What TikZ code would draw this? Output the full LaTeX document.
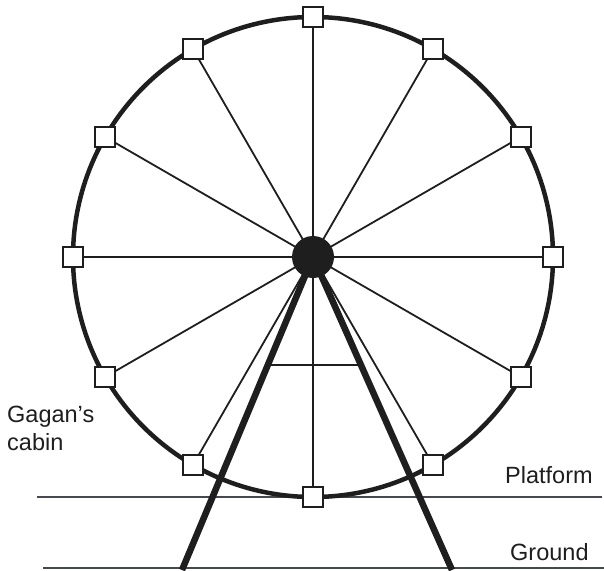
\documentclass[tikz,border=0pt]{standalone}
\usepackage{fontspec}
\setmainfont{Liberation Sans}
\usetikzlibrary{calc,positioning}
\definecolor{wheelgray}{RGB}{30,30,30}
\definecolor{linegray}{RGB}{70,74,78}

\begin{document}
\begin{tikzpicture}[x=1pt,y=-1pt,font=\fontsize{23.5}{27}\selectfont,
    cabin/.style={draw=wheelgray,fill=white,line width=2.2pt,minimum size=20pt,inner sep=0pt},
    spoke/.style={draw=wheelgray,line width=1.8pt},
    leg/.style={draw=wheelgray,line width=6.5pt},
    level/.style={draw=linegray,line width=1.8pt},
    every node/.style={align=left}]
    \useasboundingbox (0,0) rectangle (604,570);
    \coordinate (hub-c) at (313,257);
    % platform and ground
    \coordinate (plat-l) at (37,497);
    \coordinate (plat-r) at (602,497);
    \coordinate (gnd-l) at (43,568);
    \coordinate (gnd-r) at (604,568);
    \draw[level] (plat-l)--(plat-r);
    \draw[level] (gnd-l)--(gnd-r);
    % legs
    \coordinate (lfoot) at (182,570);
    \coordinate (rfoot) at (452,570);
    \draw[leg] (hub-c)--(lfoot);
    \draw[leg] (hub-c)--(rfoot);
    \draw[spoke] ($(hub-c)!0.345!(lfoot)$)--($(hub-c)!0.345!(rfoot)$);
    % wheel
    \foreach \i in {0,...,11}
      \coordinate (pos\i) at ($(hub-c)+(\i*30:240)$);
    \foreach \i in {0,...,11}
      \draw[spoke] (hub-c)--(pos\i);
    \draw[wheelgray,line width=4.5pt] (hub-c) circle[radius=240];
    \foreach \i in {0,...,11}
      \node[cabin] (cab\i) at (pos\i) {};
    \node[circle,fill=wheelgray,minimum size=42pt,inner sep=0pt] (hub) at (hub-c) {};
    % labels
    \node[anchor=base west,inner sep=0pt,text=wheelgray] (gagan) at (7,422) {Gagan’s};
    \node[anchor=base west,inner sep=0pt,text=wheelgray] (cabtxt) at (7,450) {cabin};
    \node[anchor=base west,inner sep=0pt,text=wheelgray] (plat) at (505,483) {Platform};
    \node[anchor=base west,inner sep=0pt,text=wheelgray] (gnd) at (510,560) {Ground};
  \end{tikzpicture}
\end{document}
